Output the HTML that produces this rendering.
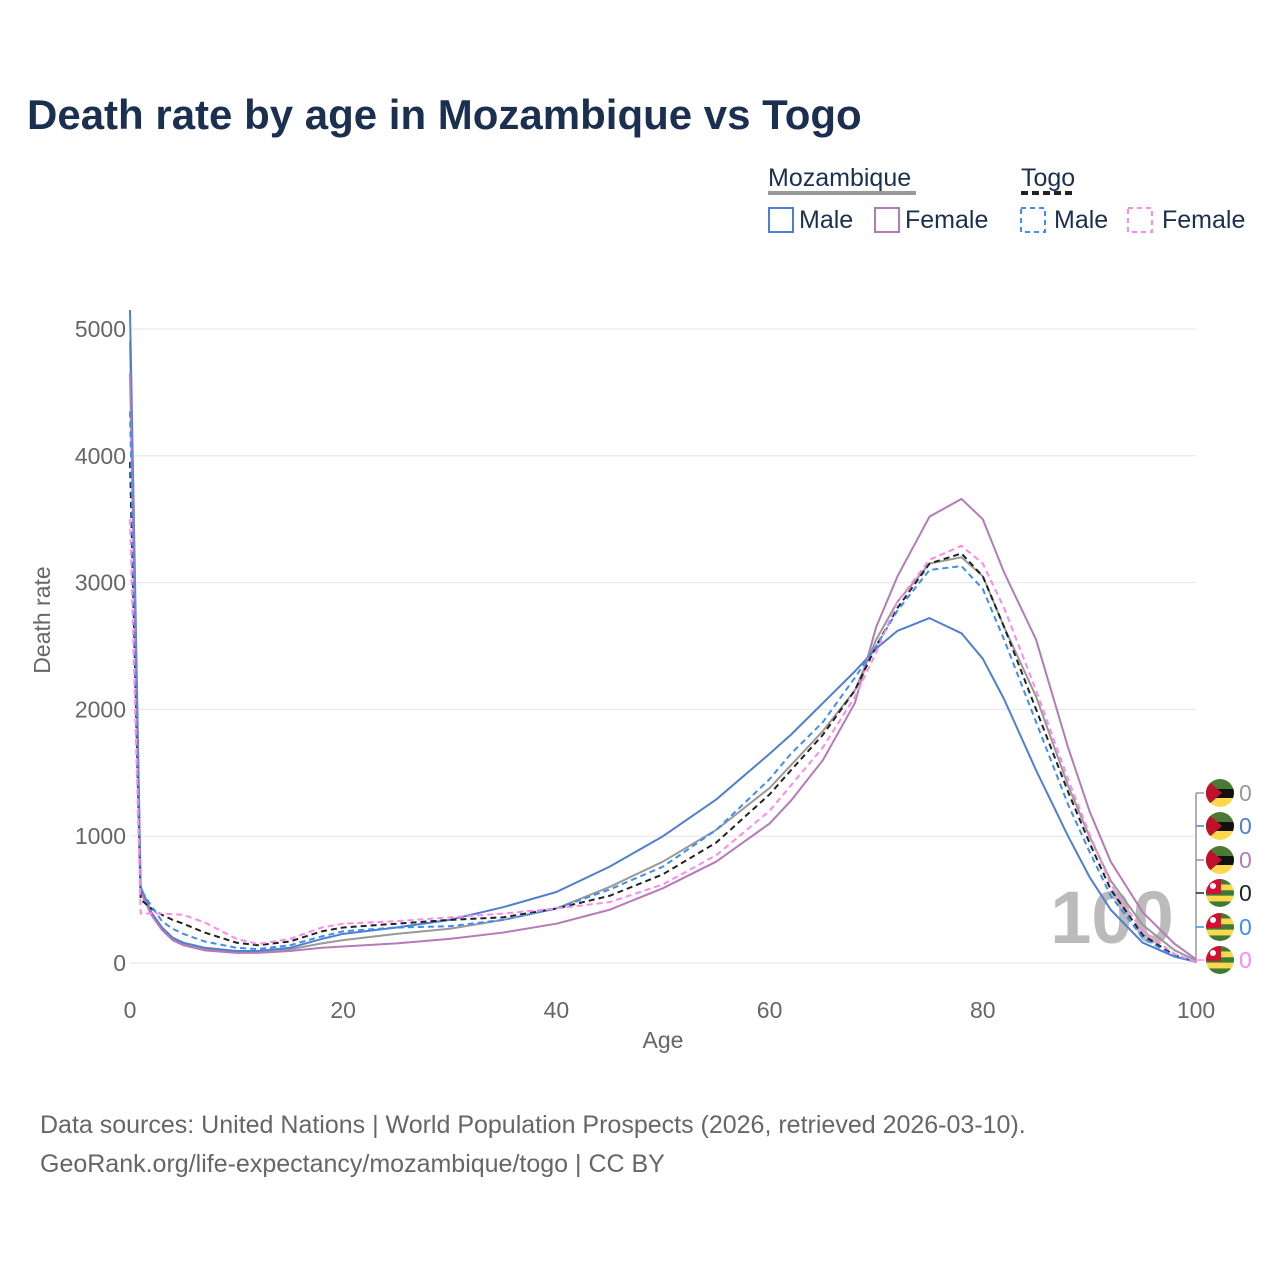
<!DOCTYPE html>
<html><head><meta charset="utf-8"><style>
body{margin:0;background:#fff;font-family:"Liberation Sans",sans-serif;}
#wrap{position:relative;width:1280px;height:1280px;overflow:hidden;}
.t{position:absolute;white-space:nowrap;}
</style></head><body>
<div id="wrap">
<div class="t" style="left:27px;top:91px;font-size:42px;font-weight:bold;color:#1b3050;">Death rate by age in Mozambique vs Togo</div>
<div class="t" style="left:40px;top:1106px;font-size:25px;color:#666;line-height:39px;">Data sources: United Nations | World Population Prospects (2026, retrieved 2026-03-10).<br>GeoRank.org/life-expectancy/mozambique/togo | CC BY</div>
<svg id="svg" width="1280" height="1280" style="position:absolute;left:0;top:0"></svg>
</div>
<script>
const ages=[0,1,2,3,4,5,7,10,12,15,18,20,25,30,35,40,45,50,55,60,62,65,68,70,72,75,78,80,82,85,88,90,92,95,98,100];
const mozTotal=[4900,580,390,270,190,150,110,88,88,108,155,180,230,270,340,430,600,800,1050,1380,1560,1830,2150,2550,2850,3150,3200,3050,2650,2100,1400,1000,650,300,100,20];
const mozMale=[5150,600,400,280,200,160,120,95,95,120,190,230,280,340,440,560,760,1000,1290,1650,1800,2050,2300,2480,2620,2720,2600,2400,2080,1520,1000,680,420,160,50,10];
const mozFemale=[4650,560,380,260,180,140,100,80,80,95,120,130,155,190,240,310,420,590,800,1100,1280,1600,2050,2650,3050,3520,3660,3500,3080,2550,1700,1200,800,400,150,30];
const togoTotal=[3950,500,430,380,340,310,240,160,140,170,250,280,310,340,360,430,530,700,950,1330,1520,1800,2150,2500,2800,3150,3230,3050,2650,2000,1350,950,580,220,60,10];
const togoMale=[4350,580,450,330,270,230,170,120,110,140,210,250,280,290,340,430,580,760,1050,1450,1650,1900,2250,2500,2780,3100,3130,2950,2550,1900,1250,880,530,200,50,10];
const togoFemale=[3500,390,390,390,385,380,320,190,150,190,280,310,330,360,390,430,480,620,850,1200,1400,1700,2100,2450,2850,3180,3290,3150,2800,2150,1450,1020,620,250,70,10];
const yTicks=[0,1000,2000,3000,4000,5000];
const xTicks=[0,20,40,60,80,100];
const NS='http://www.w3.org/2000/svg',svg=document.getElementById('svg');
const X=a=>130+a*10.66, Y=v=>963-v*0.1268;
function mk(t,at){const e=document.createElementNS(NS,t);for(const k in at)e.setAttribute(k,at[k]);svg.appendChild(e);return e;}
yTicks.forEach(v=>{
 const g=mk('line',{x1:130,x2:1196,y1:Y(v),y2:Y(v),stroke:'#e6e6e6','stroke-width':1});
 
 
 const t=mk('text',{x:126,y:Y(v)+8,'text-anchor':'end','font-size':23,fill:'#666','font-family':'Liberation Sans'});t.textContent=v;
 
 
});
xTicks.forEach(v=>{
 const t=mk('text',{x:X(v),y:1018,'text-anchor':'middle','font-size':23,fill:'#666','font-family':'Liberation Sans'});t.textContent=v;
 
 
});
let t=mk('text',{x:663,y:1048,'text-anchor':'middle','font-size':23,fill:'#666','font-family':'Liberation Sans'});t.textContent='Age';


t=mk('text',{x:50,y:620,'text-anchor':'middle','font-size':23,fill:'#666','font-family':'Liberation Sans',transform:'rotate(-90 50 620)'});t.textContent='Death rate';


t=mk('text',{x:1112,y:943,'text-anchor':'middle','font-size':74,fill:'#bbb','font-weight':'bold','font-family':'Liberation Sans'});t.textContent='100';


const series=[
 ['moz-total-line',mozTotal,'#999','none'],
 ['moz-male-line',mozMale,'#4f7fd0','none'],
 ['moz-female-line',mozFemale,'#b57ab8','none'],
 ['togo-total-line',togoTotal,'#222','6 4'],
 ['togo-male-line',togoMale,'#3d8ef0','6 4'],
 ['togo-female-line',togoFemale,'#ff88ee','6 4']];
series.forEach(s=>{
 const p=mk('polyline',{points:ages.map((a,i)=>X(a)+','+Y(s[1][i])).join(' '),fill:'none',stroke:s[2],'stroke-width':2,'stroke-dasharray':s[3],'stroke-linejoin':'round'});
 
 
});
const fy=[793,826,860,893,927,960];
mk('line',{x1:1196,x2:1196,y1:793,y2:963,stroke:'#999','stroke-width':1.5});
series.forEach((s,i)=>{
 mk('line',{x1:1196,x2:1204,y1:fy[i],y2:fy[i],stroke:s[2],'stroke-width':1.5});
 const moz=i<3,cx=1220,cy=fy[i];
 const g=mk('g',{});
 
 
 const cl='c'+i;
 const c=document.createElementNS(NS,'clipPath');c.setAttribute('id',cl);const cc=document.createElementNS(NS,'circle');cc.setAttribute('cx',cx);cc.setAttribute('cy',cy);cc.setAttribute('r',14);c.appendChild(cc);g.appendChild(c);
 const add=(t,a)=>{const e=document.createElementNS(NS,t);for(const k in a)e.setAttribute(k,a[k]);e.setAttribute('clip-path','url(#'+cl+')');g.appendChild(e);};
 if(moz){add('rect',{x:cx-14,y:cy-14,width:28,height:10,fill:'#4a7a33'});add('rect',{x:cx-14,y:cy-4,width:28,height:9,fill:'#111'});add('rect',{x:cx-14,y:cy+5,width:28,height:9,fill:'#fcd84a'});add('polygon',{points:`${cx-14},${cy-14} ${cx+2},${cy} ${cx-14},${cy+14}`,fill:'#c0112b'});}
 else{for(let k=0;k<5;k++)add('rect',{x:cx-14,y:cy-14+k*5.6,width:28,height:5.6,fill:k%2?'#fcd84a':'#3f7a33'});add('rect',{x:cx-14,y:cy-14,width:15,height:15,fill:'#d21034'});add('circle',{cx:cx-7,cy:cy-7,r:3,fill:'#fff'});}
 const tx=mk('text',{x:1239,y:cy+8,'font-size':23,fill:s[2],'font-family':'Liberation Sans'});tx.textContent='0';
 
 
});
function lt(x,y,s,name){const e=mk('text',{x:x,y:y,'font-size':25,fill:'#1b3050','font-family':'Liberation Sans'});e.textContent=s;}
lt(768,186,'Mozambique','legend-mozambique');mk('line',{x1:768,x2:916,y1:193,y2:193,stroke:'#999','stroke-width':4});
lt(1021,186,'Togo','legend-togo');mk('line',{x1:1021,x2:1076,y1:193,y2:193,stroke:'#222','stroke-width':4,'stroke-dasharray':'7 4'});
[[769,'#4f7fd0','none','Male',799],[875,'#b57ab8','none','Female',905],[1021,'#3d8ef0','5 4','Male',1054],[1128,'#ff88ee','5 4','Female',1162]].forEach(l=>{
 const r=mk('rect',{x:l[0],y:208,width:24,height:24,fill:'none',stroke:l[1],'stroke-width':2,'stroke-dasharray':l[2]});
 
 
 lt(l[4],228,l[3],'legend-entry');
});
</script>
</body></html>
